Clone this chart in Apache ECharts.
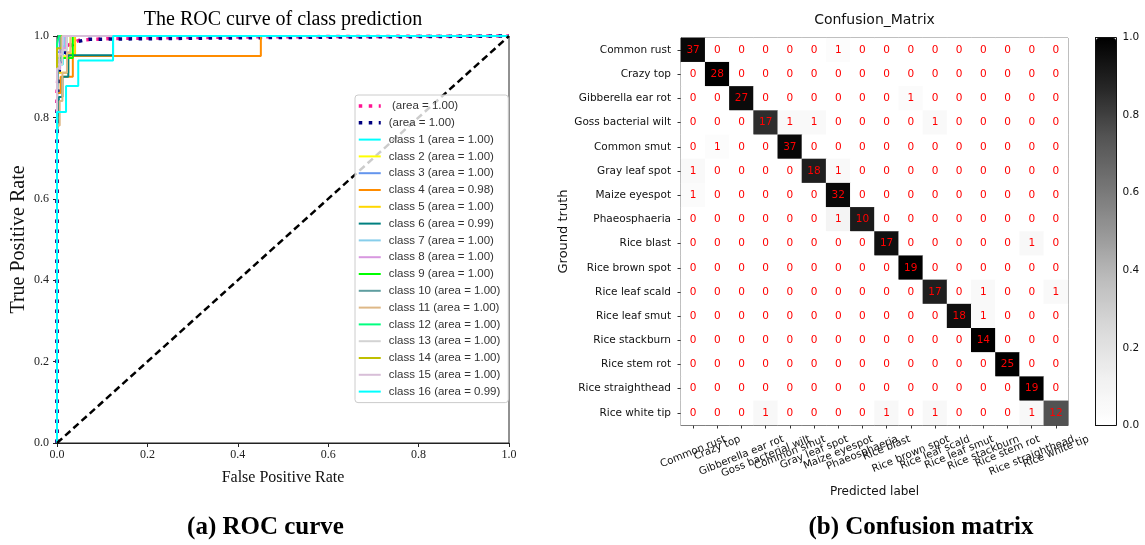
<!DOCTYPE html>
<html>
<head>
<meta charset="utf-8">
<script src="https://cdn.jsdelivr.net/npm/echarts@6/dist/echarts.min.js"></script>
<style>
html,body{margin:0;padding:0;background:#fff;}
#chart{width:1145px;height:545px;}
</style>
</head>
<body>
<div id="chart"></div>
<script>
// ---------------- DATA ----------------
const classNames = ['Common rust','Crazy top','Gibberella ear rot','Goss bacterial wilt','Common smut',
  'Gray leaf spot','Maize eyespot','Phaeosphaeria','Rice blast','Rice brown spot','Rice leaf scald',
  'Rice leaf smut','Rice stackburn','Rice stem rot','Rice straighthead','Rice white tip'];

// rows = ground truth, columns = predicted label
const counts = [
  [37,0,0,0,0,0,1,0,0,0,0,0,0,0,0,0],
  [0,28,0,0,0,0,0,0,0,0,0,0,0,0,0,0],
  [0,0,27,0,0,0,0,0,0,1,0,0,0,0,0,0],
  [0,0,0,17,1,1,0,0,0,0,1,0,0,0,0,0],
  [0,1,0,0,37,0,0,0,0,0,0,0,0,0,0,0],
  [1,0,0,0,0,18,1,0,0,0,0,0,0,0,0,0],
  [1,0,0,0,0,0,32,0,0,0,0,0,0,0,0,0],
  [0,0,0,0,0,0,1,10,0,0,0,0,0,0,0,0],
  [0,0,0,0,0,0,0,0,17,0,0,0,0,0,1,0],
  [0,0,0,0,0,0,0,0,0,19,0,0,0,0,0,0],
  [0,0,0,0,0,0,0,0,0,0,17,0,1,0,0,1],
  [0,0,0,0,0,0,0,0,0,0,0,18,1,0,0,0],
  [0,0,0,0,0,0,0,0,0,0,0,0,14,0,0,0],
  [0,0,0,0,0,0,0,0,0,0,0,0,0,25,0,0],
  [0,0,0,0,0,0,0,0,0,0,0,0,0,0,19,0],
  [0,0,0,1,0,0,0,0,1,0,1,0,0,0,1,12]
];

const colorbarTicks = [0, 0.2, 0.4, 0.6, 0.8, 1.0];
const rocTicks = [0, 0.2, 0.4, 0.6, 0.8, 1.0];

// ROC curves: [FPR, TPR]
const microCurve = [[0,0],[0,0.86],[0.003,0.92],[0.008,0.95],[0.02,0.975],[0.05,0.99],[0.12,0.994],[0.45,0.998],[1,1]];
const macroCurve = [[0,0],[0,0.8],[0.003,0.88],[0.006,0.93],[0.018,0.96],[0.04,0.985],[0.07,0.992],[0.45,0.996],[1,1]];
const class1  = [[0,0],[0,0.93],[0.013,0.93],[0.013,0.975],[0.022,0.975],[0.022,1],[1,1]];
const class2  = [[0,0],[0,0.95],[0.03,0.95],[0.03,1],[1,1]];
const class3  = [[0,0],[0,0.96],[0.006,0.96],[0.006,1],[1,1]];
const class4  = [[0,0],[0,0.86],[0.008,0.86],[0.008,0.9],[0.035,0.9],[0.035,0.951],[0.451,0.951],[0.451,1],[1,1]];
const class5  = [[0,0],[0,0.91],[0.025,0.91],[0.025,0.955],[0.04,0.955],[0.04,1],[1,1]];
const class6  = [[0,0],[0,0.75],[0.004,0.75],[0.004,0.85],[0.012,0.85],[0.012,0.9],[0.025,0.9],[0.025,0.953],[0.124,0.953],[0.124,1],[1,1]];
const class7  = [[0,0],[0,0.97],[0.016,0.97],[0.016,1],[1,1]];
const class8  = [[0,0],[0,0.92],[0.007,0.92],[0.007,0.97],[0.02,0.97],[0.02,1],[1,1]];
const class9  = [[0,0],[0,0.946],[0.035,0.946],[0.035,1],[1,1]];
const class10 = [[0,0],[0,0.83],[0.003,0.83],[0.003,0.94],[0.01,0.94],[0.01,1],[1,1]];
const class11 = [[0,0],[0,0.78],[0.006,0.78],[0.006,0.84],[0.012,0.84],[0.012,0.91],[0.022,0.91],[0.022,0.96],[0.03,0.96],[0.03,1],[1,1]];
const class12 = [[0,0],[0,0.98],[0.004,0.98],[0.004,1],[1,1]];
const class13 = [[0,0],[0,0.93],[0.012,0.93],[0.012,0.965],[0.022,0.965],[0.022,1],[1,1]];
const class14 = [[0,0],[0,0.97],[0.01,0.97],[0.01,1],[1,1]];
const class15 = [[0,0],[0,0.92],[0.005,0.92],[0.005,0.955],[0.012,0.955],[0.012,1],[1,1]];
const class16 = [[0,0],[0,0.813],[0.02,0.813],[0.02,0.877],[0.047,0.877],[0.047,0.94],[0.124,0.94],[0.124,1],[1,1]];
const diagonal = [[0,0],[1,1]];

const classAreas = ['1.00','1.00','1.00','0.98','1.00','0.99','1.00','1.00','1.00','1.00','1.00','1.00','1.00','1.00','1.00','0.99'];
const microName = ' (area = 1.00)';
const macroName = '(area = 1.00)';

// ---------------- STYLE ----------------
const classCurves = [class1,class2,class3,class4,class5,class6,class7,class8,class9,class10,class11,class12,class13,class14,class15,class16];
const classColors = ['#00ffff','#ffff00','#6495ed','#ff8c00','#ffd700','#008080','#87ceeb','#d898e0',
  '#00ff00','#5f9ea0','#deb887','#00ff7f','#d3d3d3','#bfbf00','#d8bfd8','#00ffff'];
const GREYS = ['#ffffff','#f0f0f0','#d9d9d9','#bdbdbd','#969696','#737373','#525252','#252525','#000000'];
const SANS = 'DejaVu Sans';
const SERIF = 'Liberation Serif';
const DOT = [3.5, 6.5];

// heatmap data (row-normalised colour, raw count label)
const heatData = [];
counts.forEach((row, i) => {
  const sum = row.reduce((a, b) => a + b, 0);
  row.forEach((v, j) => heatData.push([j, i, v / sum, v]));
});

// x tick labels rotated and centred on the tick (matplotlib ha="center")
const ROT = 22, XFS = 10.3;
const sn = Math.sin(ROT * Math.PI / 180), cs = Math.cos(ROT * Math.PI / 180);
const mctx = document.createElement('canvas').getContext('2d');
mctx.font = XFS + 'px "' + SANS + '"';
const xRich = {};
classNames.forEach((n, i) => {
  const w = mctx.measureText(n).width;
  const h = XFS * 1.2;
  const H = w * sn + h * cs;
  xRich['p' + i] = {padding: [H * cs, H * sn, 0, 0], fontSize: XFS, fontFamily: SANS, color: '#111', lineHeight: h};
});

const series = [{
  type: 'heatmap', xAxisIndex: 1, yAxisIndex: 1, data: heatData,
  label: {show: true, formatter: p => p.value[3], color: '#ff0000', fontSize: 10.5, fontFamily: SANS},
  emphasis: {disabled: true}, itemStyle: {borderWidth: 0}
}];
series.push({type:'line', name: microName, data: microCurve, xAxisIndex:0, yAxisIndex:0, symbol:'none', clip:false,
  lineStyle:{color:'#ff1493', width:3.5, type:DOT}, itemStyle:{color:'#ff1493'}});
series.push({type:'line', name: macroName, data: macroCurve, xAxisIndex:0, yAxisIndex:0, symbol:'none', clip:false,
  lineStyle:{color:'#000080', width:3.5, type:DOT}, itemStyle:{color:'#000080'}});
classCurves.forEach((c, i) => {
  series.push({type:'line', name: 'class ' + (i + 1) + ' (area = ' + classAreas[i] + ')', data: c,
    xAxisIndex:0, yAxisIndex:0, symbol:'none', clip:false,
    lineStyle:{color: classColors[i], width:2}, itemStyle:{color: classColors[i]}});
});
series.push({type:'line', data: diagonal, xAxisIndex:0, yAxisIndex:0, symbol:'none', clip:false, silent:true,
  lineStyle:{color:'#000', width:2.5, type:[7,4]}});

const legendData = [
  {name: microName, lineStyle: {width: 3.5, type: DOT, color: '#ff1493'}},
  {name: macroName, lineStyle: {width: 3.5, type: DOT, color: '#000080'}}
].concat(classCurves.map((c, i) => ({name: 'class ' + (i + 1) + ' (area = ' + classAreas[i] + ')', lineStyle: {width: 2}})));

const option = {
  animation: false,
  backgroundColor: '#fff',
  graphic: [
    {type:'text', x:283, y:20, style:{text:'The ROC curve of class prediction', font:'20px "' + SERIF + '"', fill:'#000', align:'center', verticalAlign:'middle'}},
    {type:'text', x:874.5, y:20, style:{text:'Confusion_Matrix', font:'14px "' + SANS + '"', fill:'#111', align:'center', verticalAlign:'middle'}},
    {type:'text', x:265.5, y:528, style:{text:'(a) ROC curve', font:'bold 25px "' + SERIF + '"', fill:'#000', align:'center', verticalAlign:'middle'}},
    {type:'text', x:921, y:528, style:{text:'(b) Confusion matrix', font:'bold 25px "' + SERIF + '"', fill:'#000', align:'center', verticalAlign:'middle'}}
  ],
  grid: [
    {left:57, top:36, width:452, height:407, show:true, borderColor:'#222', borderWidth:1, backgroundColor:'transparent'},
    {left:681, top:38, width:387, height:387, show:true, borderColor:'#555', borderWidth:1, backgroundColor:'transparent'},
    {left:1095.5, top:37.5, width:21, height:388, show:true, borderColor:'#111', borderWidth:1, backgroundColor:'transparent'}
  ],
  xAxis: [
    {gridIndex:0, type:'value', min:0, max:1, interval:0.2,
      axisLine:{show:true, onZero:false, lineStyle:{color:'#222'}},
      axisTick:{show:true, length:4, lineStyle:{color:'#222'}},
      axisLabel:{formatter: v => v.toFixed(1), fontFamily:SERIF, fontSize:12, color:'#222', margin:6},
      splitLine:{show:false},
      name:'False Positive Rate', nameLocation:'middle', nameGap:27,
      nameTextStyle:{fontFamily:SERIF, fontSize:16, color:'#111'}},
    {gridIndex:1, type:'category', data:classNames, position:'bottom',
      axisLine:{show:true, lineStyle:{color:'#555'}},
      axisTick:{show:true, alignWithLabel:true, interval:0, length:3.5, lineStyle:{color:'#333'}},
      axisLabel:{interval:0, rotate:ROT, align:'center', verticalAlign:'middle', margin:8,
        formatter:(v, i) => '{p' + i + '|' + v + '}', rich:xRich},
      splitLine:{show:false}, splitArea:{show:false},
      name:'Predicted label', nameLocation:'middle', nameGap:61,
      nameTextStyle:{fontFamily:SANS, fontSize:12, color:'#111'}},
    {gridIndex:2, type:'value', min:0, max:1, show:false}
  ],
  yAxis: [
    {gridIndex:0, type:'value', min:0, max:1, interval:0.2,
      axisLine:{show:true, onZero:false, lineStyle:{color:'#222'}},
      axisTick:{show:true, length:4, lineStyle:{color:'#222'}},
      axisLabel:{formatter: v => v.toFixed(1), fontFamily:SERIF, fontSize:12, color:'#222', margin:8},
      splitLine:{show:false},
      name:'True Positive Rate', nameLocation:'middle', nameGap:28,
      nameTextStyle:{fontFamily:SERIF, fontSize:20, color:'#111'}},
    {gridIndex:1, type:'category', data:classNames, inverse:true,
      axisLine:{show:true, lineStyle:{color:'#555'}},
      axisTick:{show:true, alignWithLabel:true, interval:0, length:3.5, lineStyle:{color:'#333'}},
      axisLabel:{interval:0, fontFamily:SANS, fontSize:10.5, color:'#111', margin:10},
      splitLine:{show:false}, splitArea:{show:false},
      name:'Ground truth', nameLocation:'middle', nameGap:111,
      nameTextStyle:{fontFamily:SANS, fontSize:13, color:'#111'}},
    {gridIndex:2, type:'value', min:0, max:1, interval:0.2, position:'right',
      axisLine:{show:true, lineStyle:{color:'#111'}},
      axisTick:{show:true, length:4, lineStyle:{color:'#111'}},
      axisLabel:{formatter: v => v.toFixed(1), fontFamily:SANS, fontSize:10.5, color:'#111', margin:6},
      splitLine:{show:false}}
  ],
  visualMap: {
    type:'continuous', min:0, max:1, dimension:2, seriesIndex:0, calculable:false, hoverLink:false,
    orient:'vertical', left:1096, top:38, itemWidth:20, itemHeight:387, padding:0, text:null,
    inRange:{color:GREYS}
  },
  legend: {
    orient:'vertical', left:355, top:95, itemWidth:22, itemHeight:14, itemGap:4.8,
    padding:[5,8,5,2], backgroundColor:'rgba(255,255,255,0.8)', borderColor:'#ccc', borderWidth:1, borderRadius:3,
    itemStyle:{opacity:0},
    textStyle:{fontFamily:'Liberation Sans', fontSize:11.5, color:'#333', padding:[0,0,0,3]},
    data: legendData, selectedMode:false
  },
  series: series
};

const chart = echarts.init(document.getElementById('chart'), null, {renderer:'canvas'});
chart.setOption(option);
</script>
</body>
</html>
